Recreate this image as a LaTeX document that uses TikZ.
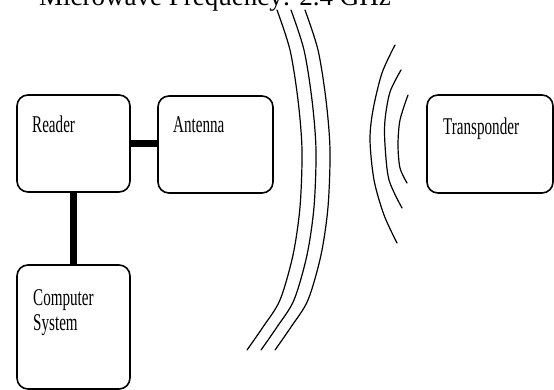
\documentclass[tikz,border=0pt]{standalone}
\usepackage{fontspec}
\setmainfont{Liberation Serif}
\begin{document}
\begin{tikzpicture}[x=1pt,y=-1pt,
  box/.style={draw, line width=1.6pt, rounded corners=11pt, inner sep=0pt},
  lbl/.style={anchor=base west, inner sep=0pt, font=\fontsize{24}{27}\selectfont},
  conn/.style={line width=7pt},
  wave/.style={line width=1.2pt, line cap=round}]
\useasboundingbox (0,0) rectangle (554,390);
\clip (0,0) rectangle (554,390);
\node[anchor=base, inner sep=0pt, font=\fontsize{27}{30}\selectfont] (title) at (215,6) {Microwave Frequency: 2.4 GHz};
\node[box, minimum width=113pt, minimum height=97pt] (reader) at (73.5,143.5) {};
\node[box, minimum width=115pt, minimum height=97pt] (antenna) at (215.5,144.5) {};
\node[box, minimum width=126pt, minimum height=98pt] (transponder) at (490,144) {};
\node[box, minimum width=113pt, minimum height=124pt] (computer) at (73.5,327) {};
\node[lbl] (readerT) at (32,133) {\scalebox{0.63}[1]{Reader}};
\node[lbl] (antennaT) at (173,133) {\scalebox{0.63}[1]{Antenna}};
\node[lbl] (transponderT) at (443,135) {\scalebox{0.63}[1]{Transponder}};
\node[lbl] (computerT1) at (33,305) {\scalebox{0.63}[1]{Computer}};
\node[lbl] (computerT2) at (33,330) {\scalebox{0.63}[1]{System}};
\draw[conn] (reader.east) -- (reader.east -| antenna.west);
\draw[conn] (reader.south) -- (computer.north);
\foreach \dx in {0,14,28} {
  \draw[wave, xshift=\dx pt] plot[smooth] coordinates {(277,10) (290,50) (298,100) (302,150) (300,207) (293,255) (280,300) (263,327) (247,350)};
}
\draw[wave] plot[smooth] coordinates {(395,45) (382,73) (373,110) (370,140) (374,180) (384,215) (397,243)};
\draw[wave] plot[smooth] coordinates {(401,70) (390,92) (385,120) (385,145) (389,180) (402,208)};
\draw[wave] plot[smooth] coordinates {(408,95) (400,120) (398,145) (400,168) (407,183)};
\end{tikzpicture}
\end{document}
